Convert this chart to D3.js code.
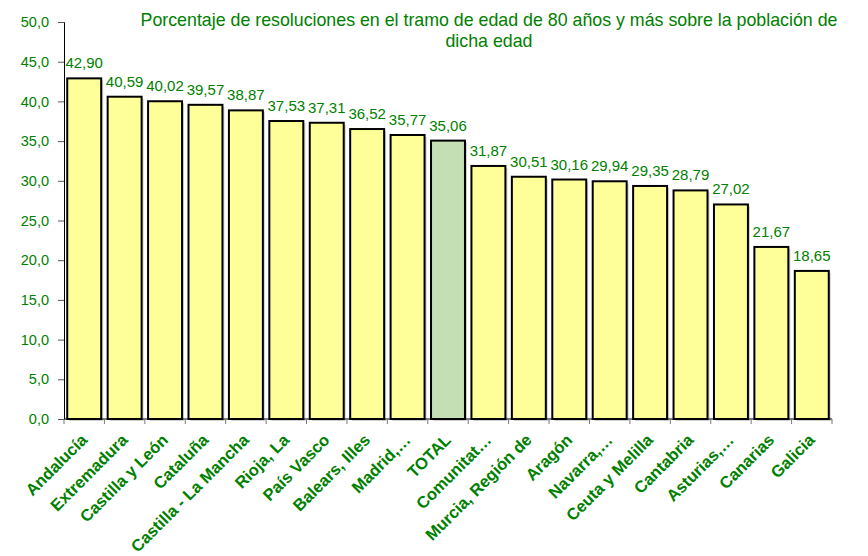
<!DOCTYPE html>
<html>
<head>
<meta charset="utf-8">
<script src="https://cdn.jsdelivr.net/npm/d3@7"></script>
<style>
  body { margin: 0; background: #fff; }
  svg { display: block; font-family: "Liberation Sans", Arial, sans-serif; }
</style>
</head>
<body>
<div id="chart"></div>
<script>
// regions, sorted as in the source sheet
const regions = ["Andalucía", "Extremadura", "Castilla y León", "Cataluña", "Castilla - La Mancha",
  "Rioja, La", "País Vasco", "Balears, Illes", "Madrid,…", "TOTAL", "Comunitat…",
  "Murcia, Región de", "Aragón", "Navarra,…", "Ceuta y Melilla", "Cantabria",
  "Asturias,…", "Canarias", "Galicia"];
const values = [42.90, 40.59, 40.02, 39.57, 38.87, 37.53, 37.31, 36.52, 35.77, 35.06, 31.87,
  30.51, 30.16, 29.94, 29.35, 28.79, 27.02, 21.67, 18.65];
const yTicks = [0, 5, 10, 15, 20, 25, 30, 35, 40, 45, 50];
const titleLines = ["Porcentaje de resoluciones en el tramo de edad de 80 años y más sobre la población de",
  "dicha edad"];

const width = 868, height = 556;
const green = "#008000";
const fmt = v => v.toFixed(2).replace(".", ",");
const fmtTick = v => v.toFixed(1).replace(".", ",");

const data = regions.map((r, i) => ({ name: r, value: values[i] }));

const svg = d3.select("#chart").append("svg")
    .attr("width", width)
    .attr("height", height);

const x = d3.scaleBand()
    .domain(regions)
    .range([64, 832])
    .paddingInner(0.16)
    .paddingOuter(0.08);

const y = d3.scaleLinear()
    .domain([0, 50])
    .range([419, 22]);

// title
svg.append("g")
    .selectAll("text")
    .data(titleLines)
    .join("text")
        .attr("x", 489)
        .attr("y", (d, i) => 26 + i * 21)
        .attr("text-anchor", "middle")
        .attr("fill", green)
        .attr("font-size", 17.8)
        .text(d => d);

// bar shadows
svg.append("g")
    .selectAll("rect")
    .data(data)
    .join("rect")
        .attr("x", d => x(d.name) + 2)
        .attr("y", d => y(d.value) + 2)
        .attr("width", x.bandwidth())
        .attr("height", d => y(0) - y(d.value))
        .attr("fill", "#d0d0d0");

// bars
svg.append("g")
    .selectAll("rect")
    .data(data)
    .join("rect")
        .attr("x", d => x(d.name))
        .attr("y", d => y(d.value))
        .attr("width", x.bandwidth())
        .attr("height", d => y(0) - y(d.value))
        .attr("fill", d => d.name === "TOTAL" ? "#c4dfb4" : "#ffff99")
        .attr("stroke", "#000")
        .attr("stroke-width", 2);

// value labels
svg.append("g")
    .selectAll("text")
    .data(data)
    .join("text")
        .attr("x", d => x(d.name) + x.bandwidth() / 2)
        .attr("y", d => y(d.value) - 10)
        .attr("text-anchor", "middle")
        .attr("fill", green)
        .attr("font-size", 15)
        .text(d => fmt(d.value));

// y axis
const yAxis = svg.append("g")
    .attr("transform", "translate(64,0)")
    .call(d3.axisLeft(y).tickValues(yTicks).tickFormat(fmtTick).tickSize(6).tickPadding(9));
yAxis.select(".domain").attr("stroke", "#000");
yAxis.selectAll(".tick line").attr("stroke", "#555");
yAxis.selectAll("text")
    .attr("fill", green)
    .attr("font-size", 14.5)
    .attr("font-family", "Liberation Sans, Arial, sans-serif");

// x axis line and category ticks
const xAxis = svg.append("g");
xAxis.append("line")
    .attr("x1", 64).attr("x2", 832)
    .attr("y1", y(0)).attr("y2", y(0))
    .attr("stroke", "#000");
xAxis.selectAll("line.tk")
    .data(d3.range(regions.length + 1))
    .join("line")
        .attr("class", "tk")
        .attr("x1", i => 64 + i * x.step())
        .attr("x2", i => 64 + i * x.step())
        .attr("y1", y(0))
        .attr("y2", y(0) + 5)
        .attr("stroke", "#777");

// rotated category labels
xAxis.selectAll("text")
    .data(regions)
    .join("text")
        .attr("transform", d => `translate(${x(d) + x.bandwidth() / 2 + 4},${y(0) + 22}) rotate(-45)`)
        .attr("text-anchor", "end")
        .attr("fill", green)
        .attr("font-size", 16.5)
        .attr("font-weight", "bold")
        .text(d => d);
</script>
</body>
</html>
